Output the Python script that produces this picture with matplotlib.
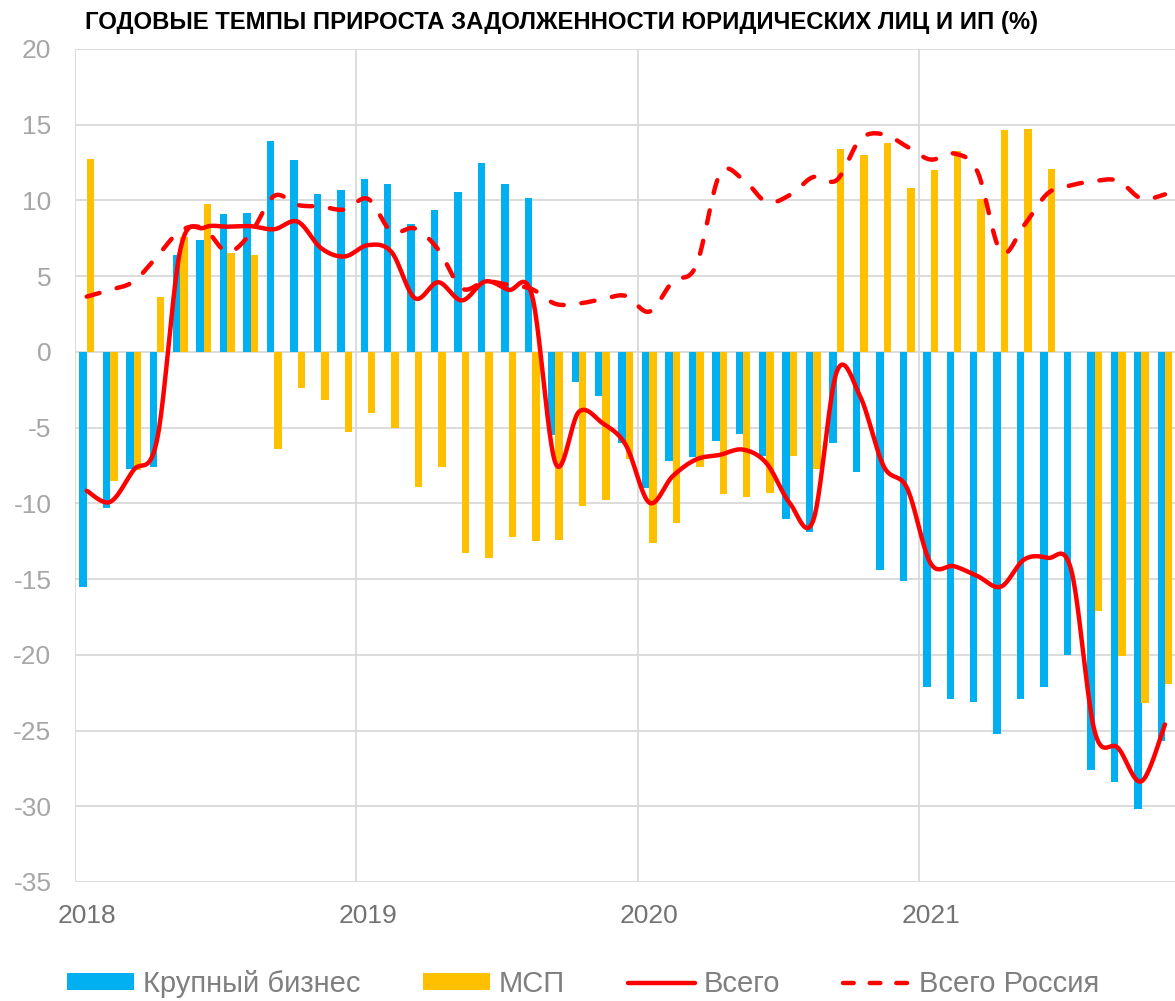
import numpy as np
import matplotlib
matplotlib.use("Agg")
import matplotlib.pyplot as plt
from matplotlib.patches import Patch
from matplotlib.lines import Line2D

plt.rcParams["font.family"] = ["Liberation Sans", "DejaVu Sans"]
plt.rcParams["axes.unicode_minus"] = False

# monthly values, Jan 2018 .. Nov 2021
big_business = [
    -15.5, -10.3, -7.7, -7.6, 6.4, 7.4, 9.1, 9.2, 13.9, 12.7, 10.4, 10.7,
    11.4, 11.1, 8.45, 9.4, 10.55, 12.45, 11.1, 10.15, -5.5, -2.0, -2.9, -6.0,
    -9.0, -7.2, -6.95, -5.9, -5.4, -6.9, -11.05, -11.9, -6.0, -7.95, -14.4, -15.1,
    -22.1, -22.9, -23.1, -25.2, -22.9, -22.1, -20.0, -27.6, -28.4, -30.2, -25.7,
]
sme = [
    12.75, -8.5, -7.8, 3.6, 7.6, 9.75, 6.55, 6.4, -6.4, -2.4, -3.2, -5.3,
    -4.05, -5.0, -8.9, -7.6, -13.3, -13.6, -12.25, -12.5, -12.4, -10.2, -9.8, -7.05,
    -12.6, -11.3, -7.6, -9.35, -9.6, -9.3, -6.85, -7.7, 13.4, 13.0, 13.8, 10.8,
    12.0, 13.25, 10.1, 14.65, 14.7, 12.1, np.nan, -17.1, -20.1, -23.15, -21.9,
]
total = [
    -9.17, -9.9, -7.8, -5.8, 6.8, 8.2, 8.27, 8.3, 8.1, 8.6, 6.85, 6.3,
    7.05, 6.6, 3.55, 4.6, 3.4, 4.65, 4.1, 3.7, -7.35, -3.95, -4.7, -6.15,
    -9.95, -8.2, -7.1, -6.8, -6.45, -7.35, -10.0, -11.1, -1.3, -2.95, -7.55, -9.0,
    -13.95, -14.15, -14.8, -15.5, -13.7, -13.6, -14.4, -25.05, -26.15, -28.35, -24.6,
]
total_russia = [
    3.65, 4.1, 4.65, 6.3, 8.0, 8.15, 6.6, 7.85, 10.3, 9.7, 9.6, 9.4,
    10.1, 7.95, 8.15, 6.75, 4.2, 4.65, 4.42, 4.14, 3.17, 3.2, 3.48, 3.7,
    2.66, 4.64, 5.7, 11.7, 11.4, 9.9, 10.36, 11.55, 11.35, 14.04, 14.37, 13.55,
    12.7, 13.1, 11.9, 6.62, 8.38, 10.47, 11.0, 11.28, 11.3, 10.12, 10.4,
]
year_labels = ["2018", "2019", "2020", "2021"]
legend_labels = ["Крупный бизнес", "МСП", "Всего", "Всего Россия"]
title = "ГОДОВЫЕ ТЕМПЫ ПРИРОСТА ЗАДОЛЖЕННОСТИ ЮРИДИЧЕСКИХ ЛИЦ И ИП (%)"

BLUE = "#00B0F0"
YELLOW = "#FFC000"
RED = "#FF0000"
GRID = "#D9D9D9"


def smooth_line(x, y, n=24):
    # Excel-like smoothed line: cubic Bezier segments through every point
    p = np.column_stack([x, y]).astype(float)
    out = []
    t = np.linspace(0, 1, n)[:, None]
    for i in range(len(p) - 1):
        p0 = p[i - 1] if i > 0 else p[i]
        p1, p2 = p[i], p[i + 1]
        p3 = p[i + 2] if i + 2 < len(p) else p[i + 1]
        c1 = p1 + (p2 - p0) / 6
        c2 = p2 - (p3 - p1) / 6
        seg = ((1 - t) ** 3) * p1 + 3 * ((1 - t) ** 2) * t * c1 + 3 * (1 - t) * t ** 2 * c2 + t ** 3 * p2
        out.append(seg if i == 0 else seg[1:])
    out = np.vstack(out)
    return out[:, 0], out[:, 1]


W, H = 1175, 1001
fig = plt.figure(figsize=(W / 100, H / 100), dpi=100)
fig.patch.set_facecolor("white")
ax = fig.add_axes([75 / W, 1 - 882 / H, 1100 / W, (882 - 49) / H])

n = len(big_business)
x = np.arange(n) + 0.5
bw = 0.32
ax.bar(x - 0.158, big_business, width=bw, color=BLUE, zorder=2)
ax.bar(x + 0.158, sme, width=bw, color=YELLOW, zorder=2)

sx, sy = smooth_line(x, total)
ax.plot(sx, sy, color=RED, lw=3.2, solid_capstyle="round", zorder=4)
rx, ry = smooth_line(x, total_russia)
ax.plot(rx, ry, color=RED, lw=3.2, dashes=(3.0, 4.0), dash_capstyle="round", zorder=4)

ax.set_xlim(0, 1100 / 23.44)
ax.set_ylim(-35, 20)
ax.set_yticks(np.arange(-35, 21, 5))
for v in np.arange(-35, 21, 5):
    ax.axhline(v, color=GRID, lw=1.3, zorder=1)
for v in [0, 12, 24, 36]:
    ax.axvline(v, color=GRID, lw=1.3, zorder=1)
for s in ax.spines.values():
    s.set_visible(False)

ax.tick_params(axis="y", length=0, pad=17, labelsize=19, labelcolor="#A6A6A6")
ax.set_xticks([0.5, 12.5, 24.5, 36.5])
ax.set_xticklabels(year_labels)
ax.tick_params(axis="x", length=0, pad=16, labelsize=19, labelcolor="#737373")

fig.text(85 / W, 1 - 23 / H, title, fontsize=17.2, fontweight="bold", color="black", va="center", ha="left")

handles = [
    Patch(facecolor=BLUE, edgecolor="none"),
    Patch(facecolor=YELLOW, edgecolor="none"),
    Line2D([], [], color=RED, lw=3.2, solid_capstyle="round"),
    Line2D([], [], color=RED, lw=3.2, dashes=(2.4, 3.6), dash_capstyle="round"),
]
fig.legend(handles, legend_labels, loc="center", bbox_to_anchor=(583 / W, 1 - 984 / H),
           ncol=4, frameon=False, fontsize=21, handlelength=2.3, handleheight=0.5,
           handletextpad=0.3, columnspacing=2.15, labelcolor="#7F7F7F")

fig.savefig("out.png", dpi=100)
